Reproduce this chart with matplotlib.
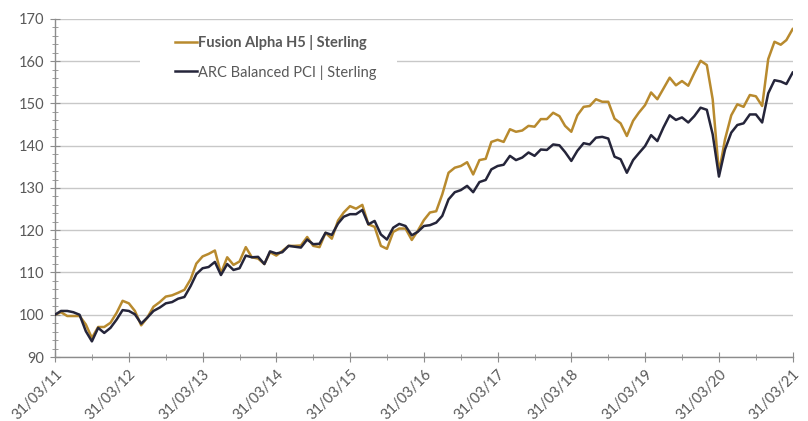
import numpy as np
import pandas as pd
import matplotlib
matplotlib.use('Agg')
import matplotlib.pyplot as plt
import matplotlib.dates as mdates
from matplotlib.patches import Rectangle
from matplotlib.ticker import MultipleLocator

plt.rcParams['font.family'] = ['Lato', 'DejaVu Sans']

# monthly values, 31/03/11 .. 31/03/21
dates = pd.date_range('2011-03-31', periods=121, freq='ME')

fusion = [100.0, 100.6, 99.7, 99.7, 99.7, 97.7, 94.5, 97.1, 97.1, 98.1,
          100.5, 103.3, 102.7, 100.9, 97.5, 99.3, 101.9, 103.0, 104.3, 104.6, 105.2, 105.9,
          108.4, 112.1, 113.8, 114.4, 115.2, 109.8, 113.6, 111.8, 112.6, 116.0, 113.6, 113.3,
          112.0, 114.8, 114.0, 115.1, 116.3, 116.3, 116.4, 118.4, 116.3, 116.0, 119.4, 118.0,
          122.3, 124.2, 125.7, 125.1, 126.0, 121.4, 120.8, 116.3, 115.6, 119.6, 120.4, 120.4,
          117.7, 119.8, 122.4, 124.2, 124.5, 128.5, 133.6, 134.8, 135.2, 136.1, 133.2, 136.6,
          136.9, 140.9, 141.4, 140.9, 143.9, 143.3, 143.6, 144.7, 144.5, 146.3, 146.3, 147.8,
          147.0, 144.7, 143.3, 147.2, 149.2, 149.4, 151.0, 150.4, 150.4, 146.4, 145.3, 142.3,
          145.9, 147.8, 149.6, 152.6, 151.0, 153.5, 156.1, 154.3, 155.3, 154.2, 157.2, 160.1,
          159.1, 151.0, 133.6, 141.5, 147.2, 149.8, 149.2, 152.0, 151.7, 149.4, 160.5, 164.6,
          163.9, 165.0, 167.6]

arc = [100.0, 100.9, 100.9, 100.6, 100.0, 96.1, 93.7, 96.9, 95.7, 96.9,
       98.9, 101.1, 100.9, 100.1, 97.9, 99.3, 100.9, 101.7, 102.7, 103.0, 103.8, 104.2,
       106.8, 109.6, 111.0, 111.3, 112.5, 109.4, 112.0, 110.6, 111.0, 114.0, 113.6, 113.7,
       112.0, 115.0, 114.5, 114.8, 116.3, 116.1, 115.9, 117.8, 116.7, 116.8, 119.4, 118.9,
       121.6, 123.2, 123.8, 123.8, 124.8, 121.4, 122.2, 119.0, 117.8, 120.6, 121.5, 121.0,
       118.8, 119.6, 121.0, 121.2, 121.8, 123.4, 127.3, 129.0, 129.5, 130.5, 129.0, 131.4,
       131.9, 134.4, 135.2, 135.5, 137.6, 136.6, 137.2, 138.4, 137.6, 139.1, 139.0, 140.3,
       140.1, 138.5, 136.4, 138.8, 140.6, 140.3, 141.9, 142.1, 141.7, 137.4, 136.8, 133.6,
       136.6, 138.2, 139.9, 142.5, 141.1, 144.3, 147.2, 146.1, 146.7, 145.5, 147.0, 149.0,
       148.5, 142.7, 132.7, 139.1, 143.1, 144.9, 145.3, 147.4, 147.4, 145.5, 152.4, 155.5,
       155.2, 154.6, 157.3]

labels = ['Fusion Alpha H5 | Sterling', 'ARC Balanced PCI | Sterling']

gold = '#B88A2E'
navy = '#25253A'
grey_txt = '#595959'

fig = plt.figure(figsize=(8.08, 4.21), dpi=100)
ax = fig.add_axes([0.068, 0.152, 0.913, 0.803])

ax.plot(dates, fusion, color=gold, lw=1.8, label=labels[0], zorder=3)
ax.plot(dates, arc, color=navy, lw=1.8, label=labels[1], zorder=4)

ax.set_xlim(dates[0], dates[-1])
ax.set_ylim(90, 170)
ax.yaxis.set_major_locator(MultipleLocator(10))
ax.yaxis.set_minor_locator(MultipleLocator(2))
ax.xaxis.set_major_locator(mdates.YearLocator(base=1, month=3, day=31))
ax.xaxis.set_minor_locator(mdates.YearLocator(base=1, month=9, day=30))
ax.xaxis.set_major_formatter(mdates.DateFormatter('%d/%m/%y'))

ax.set_axisbelow(True)
ax.grid(axis='y', which='major', color='#c8c8c8', lw=1.0, zorder=0.5)
for s in ['top', 'right']:
    ax.spines[s].set_visible(False)
for s in ['left', 'bottom']:
    ax.spines[s].set_color('#8c8c8c')
    ax.spines[s].set_linewidth(1.0)

ax.tick_params(axis='both', which='major', direction='inout', length=7,
               color='#8c8c8c', labelcolor=grey_txt, labelsize=10.5)
ax.tick_params(axis='both', which='minor', direction='inout', length=4, color='#8c8c8c')
ax.tick_params(axis='y', which='major', pad=4)
for lab in ax.get_xticklabels():
    lab.set_rotation(45)
    lab.set_ha('right')
    lab.set_rotation_mode('anchor')

# white box behind legend (hides the gridline there)
ax.add_patch(Rectangle((0.115, 0.78), 0.349, 0.19, transform=ax.transAxes,
                       facecolor='white', edgecolor='none', zorder=2))

leg = ax.legend(loc='upper left', bbox_to_anchor=(0.145, 0.99), frameon=False,
                fontsize=10.5, handlelength=1.5, handletextpad=0.1, labelspacing=1.0)
for t in leg.get_texts():
    t.set_color(grey_txt)
leg.get_texts()[0].set_fontweight('bold')

fig.savefig('out.png', dpi=100)
